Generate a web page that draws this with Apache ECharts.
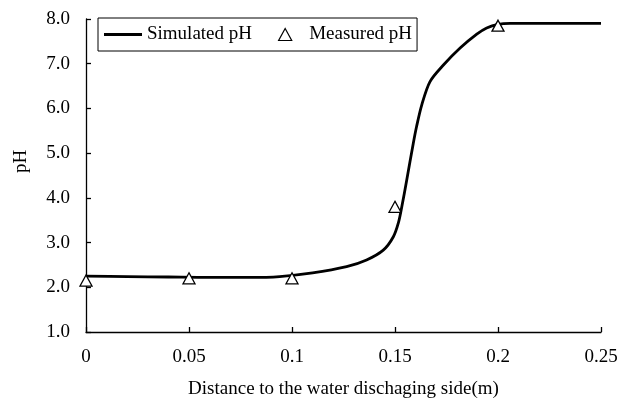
<!DOCTYPE html>
<html>
<head>
<meta charset="utf-8">
<script src="https://cdn.jsdelivr.net/npm/echarts@6/dist/echarts.min.js"></script>
<style>html,body{margin:0;padding:0;background:#fff;}#c{width:620px;height:398px;}</style>
</head>
<body>
<div id="c"></div>
<script>
// Simulated pH curve (distance m, pH)
const simX = [0, 0.02, 0.04, 0.06, 0.08, 0.094, 0.11, 0.1265, 0.1362, 0.1443, 0.1492, 0.1517, 0.1533, 0.1557, 0.1588, 0.1605, 0.163, 0.167, 0.1735, 0.1816, 0.1897, 0.1945, 0.2, 0.206, 0.22, 0.25];
const simY = [2.25, 2.24, 2.23, 2.22, 2.22, 2.24, 2.32, 2.46, 2.61, 2.83, 3.13, 3.45, 3.8, 4.4, 5.2, 5.6, 6.08, 6.6, 6.97, 7.35, 7.66, 7.8, 7.88, 7.9, 7.9, 7.9];
// Measured pH
const measX = [0, 0.05, 0.1, 0.15, 0.2];
const measY = [2.15, 2.2, 2.2, 3.8, 7.85];
// Axis ticks
const xTicks = [0, 0.05, 0.1, 0.15, 0.2, 0.25];
const yTicks = [1.0, 2.0, 3.0, 4.0, 5.0, 6.0, 7.0, 8.0];

const font = "'Liberation Serif', 'Times New Roman', serif";
const chart = echarts.init(document.getElementById('c'), null, {renderer: 'canvas'});
chart.setOption({
  animation: false,
  backgroundColor: '#fff',
  grid: {left: 86, right: 19, top: 19, bottom: 66, containLabel: false, outerBoundsMode: 'none'},
  legend: {
    left: 98, top: 18,
    padding: [7, 5, 7, 6],
    borderColor: '#000', borderWidth: 1,
    itemWidth: 38, itemHeight: 12, itemGap: 26,
    textStyle: {fontFamily: font, fontSize: 19, color: '#000'},
    data: [
      {name: 'Simulated pH', icon: 'path://M0,0H38V2.8H0Z', itemStyle: {color: '#000', borderWidth: 0}},
      {name: 'Measured pH', icon: 'path://M6,0L12,11L0,11Z', itemStyle: {color: '#fff', borderColor: '#000', borderWidth: 1.2}}
    ]
  },
  xAxis: {
    type: 'value', min: 0, max: 0.25, interval: 0.05,
    name: 'Distance to the water dischaging side(m)',
    nameLocation: 'middle', nameGap: 48,
    nameTextStyle: {fontFamily: font, fontSize: 19, color: '#000'},
    axisLine: {show: true, lineStyle: {color: '#000', width: 1.3}},
    axisTick: {show: true, inside: true, length: 5, lineStyle: {color: '#000', width: 1.3}},
    splitLine: {show: false},
    axisLabel: {fontFamily: font, fontSize: 19, color: '#000', margin: 16,
      formatter: v => { const s = xTicks.find(t => Math.abs(t - v) < 1e-9); return s === undefined ? '' : String(s); }}
  },
  yAxis: {
    type: 'value', min: 1, max: 8, interval: 1,
    name: 'pH', nameLocation: 'middle', nameGap: 55, nameRotate: 90,
    nameTextStyle: {fontFamily: font, fontSize: 19, color: '#000', padding: [0, 0, 0, 28]},
    axisLine: {show: true, lineStyle: {color: '#000', width: 1.3}},
    axisTick: {show: true, inside: true, length: 5, lineStyle: {color: '#000', width: 1.3}},
    splitLine: {show: false},
    axisLabel: {fontFamily: font, fontSize: 19, color: '#000', margin: 16,
      formatter: v => { const s = yTicks.find(t => Math.abs(t - v) < 1e-9); return s === undefined ? '' : s.toFixed(1); }}
  },
  series: [
    {
      name: 'Simulated pH', type: 'line', smooth: 0.3, symbol: 'none',
      lineStyle: {color: '#000', width: 2.8},
      itemStyle: {color: '#000'},
      data: simX.map((x, i) => [x, simY[i]]), z: 2
    },
    {
      name: 'Measured pH', type: 'scatter', symbol: 'triangle', symbolSize: [12, 11],
      itemStyle: {color: '#fff', borderColor: '#000', borderWidth: 1.3, opacity: 1},
      data: measX.map((x, i) => [x, measY[i]]), z: 3
    }
  ]
});
</script>
</body>
</html>
